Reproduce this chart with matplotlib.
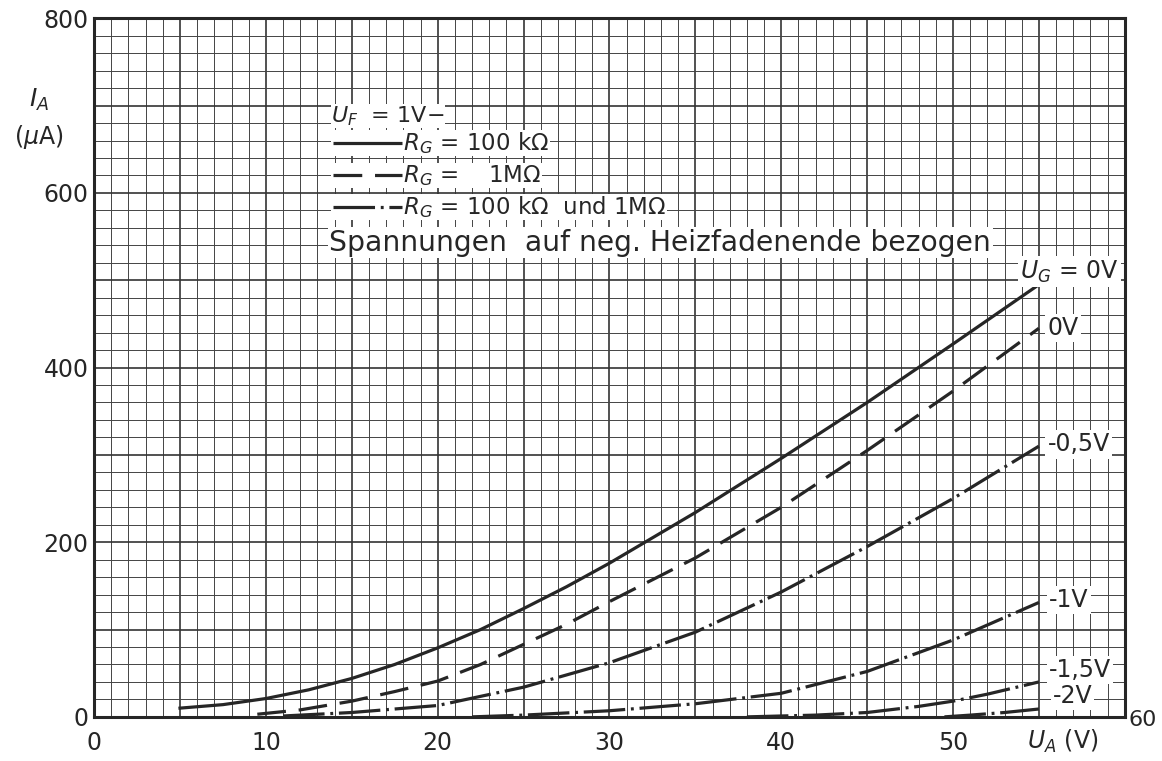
import numpy as np
import matplotlib
matplotlib.use("Agg")
import matplotlib.pyplot as plt
from matplotlib.ticker import MultipleLocator, FuncFormatter

plt.rcParams['font.family'] = ['DejaVu Sans']
plt.rcParams['mathtext.fontset'] = 'dejavusans'

# ---- data ----
ua_0v_100k = [5, 7.5, 10, 12.5, 15, 17.5, 20, 22.5, 25, 27.5, 30, 35, 40, 45, 50, 55]
ia_0v_100k = [10, 14, 21, 31, 44, 60, 79, 100, 124, 149, 176, 234, 296, 360, 427, 495]

ua_0v_1m = [9.5, 12, 15, 17.5, 20, 22.5, 25, 27.5, 30, 35, 40, 45, 50, 55]
ia_0v_1m = [3, 8, 18, 29, 41, 60, 83, 106, 132, 182, 240, 305, 373, 445]

ua_m05 = [11, 15, 20, 25, 30, 35, 40, 45, 50, 55]
ia_m05 = [1, 5, 13, 34, 62, 97, 143, 195, 250, 310]

ua_m1 = [22, 25, 30, 35, 40, 45, 50, 55]
ia_m1 = [0, 2, 7, 15, 27, 52, 88, 131]

ua_m15 = [38, 42, 45, 48, 50, 52, 55]
ia_m15 = [0, 2, 5, 12, 18, 26, 40]

ua_m2 = [49.5, 51, 53, 55]
ia_m2 = [0, 2, 5, 9]

curve_labels = [r"$U_G$ = 0V", "0V", "-0,5V", "-1V", "-1,5V", "-2V"]
x_tick_values = [0, 10, 20, 30, 40, 50]
y_tick_values = [0, 200, 400, 600, 800]

legend_header = r"$U_F$  = 1V$-$"
legend_rows = [r"$R_G$ = 100 k$\Omega$", r"$R_G$ =    1M$\Omega$",
               r"$R_G$ = 100 k$\Omega$  und 1M$\Omega$"]
legend_footer = "Spannungen  auf neg. Heizfadenende bezogen"

# ---- styling ----
INK = '#262626'
LW = 2.3
DASHED = (0, (9, 4))
DASHDOT = (0, (13, 1.8, 0.9, 1.8))

fig = plt.figure(figsize=(11.62, 7.61), dpi=100)
ax = fig.add_axes([0.081, 0.058, 0.887, 0.918])
ax.set_xlim(0, 60)
ax.set_ylim(0, 800)

# grid
ax.xaxis.set_major_locator(MultipleLocator(5))
ax.yaxis.set_major_locator(MultipleLocator(100))
ax.xaxis.set_minor_locator(MultipleLocator(1))
ax.yaxis.set_minor_locator(MultipleLocator(20))
ax.grid(which='major', color='#333333', lw=1.2, zorder=0)
ax.grid(which='minor', color='#444444', lw=0.7, zorder=0)
ax.set_axisbelow(True)
ax.tick_params(which='both', length=0)
ax.xaxis.set_major_formatter(FuncFormatter(
    lambda v, p: f"{int(v)}" if int(round(v)) in x_tick_values else ""))
ax.yaxis.set_major_formatter(FuncFormatter(
    lambda v, p: f"{int(v)}" if int(round(v)) in y_tick_values else ""))
ax.tick_params(axis='x', pad=10, labelsize=17, labelcolor=INK)
ax.tick_params(axis='y', pad=4, labelsize=17, labelcolor=INK)
for s in ax.spines.values():
    s.set_linewidth(2.2)
    s.set_color(INK)

# curves
ax.plot(ua_0v_100k, ia_0v_100k, color=INK, lw=LW, zorder=3)
ax.plot(ua_0v_1m, ia_0v_1m, color=INK, lw=LW, ls=DASHED, zorder=3)
for xs, ys in [(ua_m05, ia_m05), (ua_m1, ia_m1), (ua_m15, ia_m15), (ua_m2, ia_m2)]:
    ax.plot(xs, ys, color=INK, lw=LW, ls=DASHDOT, zorder=3)

# curve labels
box = dict(facecolor='white', edgecolor='none', pad=1.5)
label_pos = [(53.9, 510), (55.5, 445), (55.5, 312), (55.6, 134), (55.6, 54), (55.8, 24)]
for txt, (lx, ly) in zip(curve_labels, label_pos):
    ax.text(lx, ly, txt, ha='left', va='center', fontsize=17, color=INK,
            bbox=box, zorder=4)

# legend block
tight = dict(facecolor='white', edgecolor='none', pad=0.2)
ax.text(13.8, 688, legend_header, ha='left', va='center', fontsize=16,
        color=INK, bbox=tight, zorder=4)
row_y = [657, 620, 584]
row_styles = ['-', DASHED, DASHDOT]
for txt, yy, st in zip(legend_rows, row_y, row_styles):
    ax.text(13.8, yy, "          " + txt, ha='left', va='center', fontsize=16.5,
            color=INK, bbox=tight, zorder=4)
    ax.plot([13.9, 17.9], [yy, yy], color=INK, lw=LW, ls=st, zorder=5,
            solid_capstyle='butt')
ax.text(13.7, 543, legend_footer, ha='left', va='center', fontsize=20.3,
        color=INK, bbox=dict(facecolor='white', edgecolor='none', pad=1.0), zorder=4)

# axis titles
ax.text(-3.2, 706, r"$I_A$", ha='center', va='center', fontsize=18, color=INK,
        clip_on=False)
ax.text(-3.2, 664, r"($\mu$A)", ha='center', va='center', fontsize=17, color=INK,
        clip_on=False)
ax.text(56.4, -28, r"$U_A$ (V)", ha='center', va='center', fontsize=17, color=INK,
        clip_on=False)
ax.text(60.2, -4, "60", ha='left', va='center', fontsize=16, color=INK,
        clip_on=False)

fig.savefig("out.png", dpi=100, facecolor='white')
